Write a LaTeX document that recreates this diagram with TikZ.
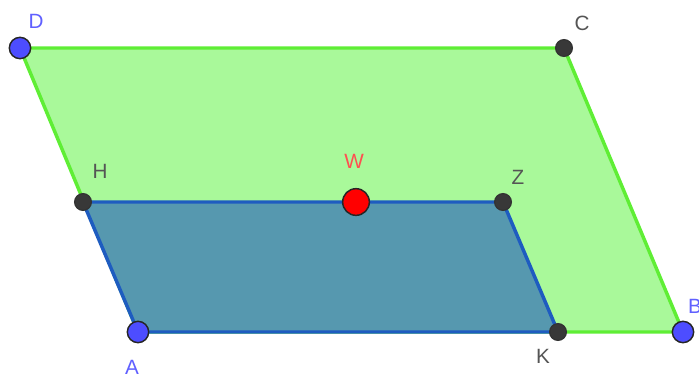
\documentclass[tikz,border=0pt]{standalone}
\usepackage{fontspec}
\setmainfont{Liberation Sans}
\usetikzlibrary{positioning}

\definecolor{ggfill}{HTML}{A9F99A}
\definecolor{ggedge}{HTML}{5FEE35}
\definecolor{bbfill}{HTML}{5698AF}
\definecolor{bbedge}{HTML}{1E5CC0}
\definecolor{freept}{HTML}{4D4DFF}
\definecolor{freelbl}{HTML}{6060FF}
\definecolor{deppt}{HTML}{383838}
\definecolor{deplbl}{HTML}{555555}
\definecolor{midpt}{HTML}{FF0000}
\definecolor{midlbl}{HTML}{FF5050}

\tikzset{
  freedot/.style={circle, fill=freept, draw=black!85, line width=1.1pt, minimum size=16pt, inner sep=0pt},
  depdot/.style={circle, fill=deppt, draw=black!80, line width=1pt, minimum size=12.5pt, inner sep=0pt},
  middot/.style={circle, fill=midpt, draw=black!85, line width=1.1pt, minimum size=20pt, inner sep=0pt},
  ptlabel/.style={font=\fontsize{15.5}{17}\selectfont, inner sep=0pt}
}

\begin{document}
\begin{tikzpicture}[x=0.75pt, y=-0.75pt]
        \useasboundingbox (0,0) rectangle (699,379);

        % Corners
        \coordinate (D) at (20,48);
        \coordinate (C) at (564,48);
        \coordinate (B) at (683,332);
        \coordinate (A) at (138,332);
        \coordinate (H) at (83,202);
        \coordinate (Z) at (503,202);
        \coordinate (K) at (558,332);
        \coordinate (W) at (356,202);

        % Big parallelogram
        \fill[ggfill] (D) -- (C) -- (B) -- (A) -- cycle;
        \draw[ggedge, line width=2.6pt, line join=round] (D) -- (C) -- (B) -- (A) -- cycle;

        % Lower part
        \fill[bbfill] (H) -- (Z) -- (K) -- (A) -- cycle;
        \draw[bbedge, line width=2.6pt, line join=round] (H) -- (Z) -- (K) -- (A) -- cycle;

        % Points
        \node[freedot] (pD) at (D) {};
        \node[freedot] (pA) at (A) {};
        \node[freedot] (pB) at (B) {};
        \node[depdot] (pC) at (C) {};
        \node[depdot] (pH) at (H) {};
        \node[depdot] (pZ) at (Z) {};
        \node[depdot] (pK) at (K) {};
        \node[middot] (pW) at (W) {};

        % Labels
        \node[ptlabel, freelbl] (lD) at (36,21) {D};
        \node[ptlabel, deplbl] (lC) at (582,23) {C};
        \node[ptlabel, deplbl] (lH) at (100,171) {H};
        \node[ptlabel, midlbl] (lW) at (354,161) {W};
        \node[ptlabel, deplbl] (lZ) at (518,177) {Z};
        \node[ptlabel, freelbl] (lA) at (132,367) {A};
        \node[ptlabel, deplbl] (lK) at (543,356) {K};
        \node[ptlabel, freelbl] (lB) at (695,306) {B};
    \end{tikzpicture}
\end{document}
